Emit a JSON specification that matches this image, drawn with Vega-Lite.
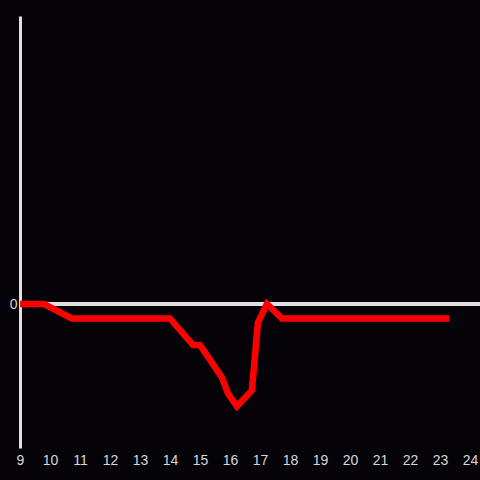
{
  "$schema": "https://vega.github.io/schema/vega-lite/v6.json",
  "width": 460,
  "height": 432,
  "autosize": {"type": "none"},
  "padding": {"left": 20, "top": 16, "right": 0, "bottom": 32},
  "background": "#050307",
  "config": {"view": {"stroke": null}, "font": "Liberation Sans"},
  "data": {"values": [
    {"x": 9, "y": 0},
    {"x": 9.8, "y": 0},
    {"x": 10.73, "y": -0.1},
    {"x": 14, "y": -0.1},
    {"x": 14.77, "y": -0.285},
    {"x": 15, "y": -0.285},
    {"x": 15.73, "y": -0.51},
    {"x": 15.93, "y": -0.62},
    {"x": 16.23, "y": -0.71},
    {"x": 16.73, "y": -0.6},
    {"x": 16.93, "y": -0.13},
    {"x": 17.23, "y": 0},
    {"x": 17.73, "y": -0.1},
    {"x": 23.3, "y": -0.1}
  ]},
  "layer": [
    {
      "mark": {"type": "rule", "color": "#e0e0e0", "strokeWidth": 3},
      "encoding": {"y": {"datum": 0, "type": "quantitative"}}
    },
    {
      "mark": {"type": "line", "color": "#ff0000", "strokeWidth": 6.5, "strokeJoin": "miter"},
      "encoding": {
        "x": {"field": "x", "type": "quantitative",
          "scale": {"domain": [9, 24.3333], "nice": false, "zero": false},
          "axis": {"title": null, "values": [9,10,11,12,13,14,15,16,17,18,19,20,21,22,23,24], "format": "d", "domain": false, "ticks": false, "grid": false, "labelColor": "#d8d8d8", "labelFontSize": 14, "labelPadding": 5, "labelFlush": false, "labelOverlap": false}},
        "y": {"field": "y", "type": "quantitative",
          "scale": {"domain": [-1, 2], "nice": false, "zero": false},
          "axis": {"title": null, "values": [0], "format": "d", "domain": true, "domainColor": "#e0e0e0", "domainWidth": 3, "ticks": false, "grid": false, "labelColor": "#d8d8d8", "labelFontSize": 14, "labelPadding": 3}}
      }
    }
  ]
}
